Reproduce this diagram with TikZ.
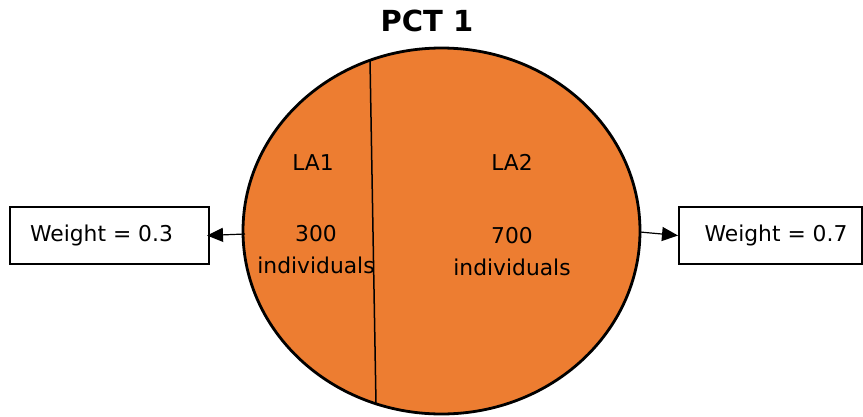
\documentclass[tikz,border=0pt]{standalone}
\usepackage{fontspec}
\setmainfont{DejaVu Sans}
\usetikzlibrary{arrows.meta,shapes.geometric}
\definecolor{orng}{HTML}{ED7D31}
\begin{document}
\begin{tikzpicture}[x=1pt,y=-1pt,
  wbox/.style={draw=black,line width=2pt,minimum height=57pt,inner sep=0pt,font=\fontsize{21.8}{24}\selectfont},
  lbl/.style={font=\fontsize{21.8}{32}\selectfont,align=center},
  arr/.style={line width=1.2pt,-{Triangle[length=16pt,width=14pt]}}]
\useasboundingbox (0,0) rectangle (863,416);
\node[draw=black,line width=2.8pt,fill=orng,ellipse,minimum width=397pt,minimum height=366pt,inner sep=0pt] (circ) at (441.5,231) {};
\coordinate (dtop) at (370,60);
\coordinate (dbot) at (376,404);
\draw[line width=1.5pt] (dtop) -- (dbot);
\node[font=\fontsize{29}{32}\selectfont\bfseries] (title) at (427,21) {PCT 1};
\node[lbl] (la1) at (313,163) {LA1};
\node[lbl] (n1) at (316,250) {300\\individuals};
\node[lbl] (la2) at (512,162) {LA2};
\node[lbl] (n2) at (512,252) {700\\individuals};
\node[wbox,minimum width=199pt] (lbox) at (109.5,235.5) {\hspace*{-16pt}Weight = 0.3};
\node[wbox,minimum width=183pt] (rbox) at (770.5,235.5) {\hspace*{11pt}Weight = 0.7};
\coordinate (lstart) at (245,234);
\coordinate (rstart) at (640,232);
\draw[arr] (lstart) -- ([xshift=-3pt]lbox.east);
\draw[arr] (rstart) -- (rbox.west);
\end{tikzpicture}
\end{document}
